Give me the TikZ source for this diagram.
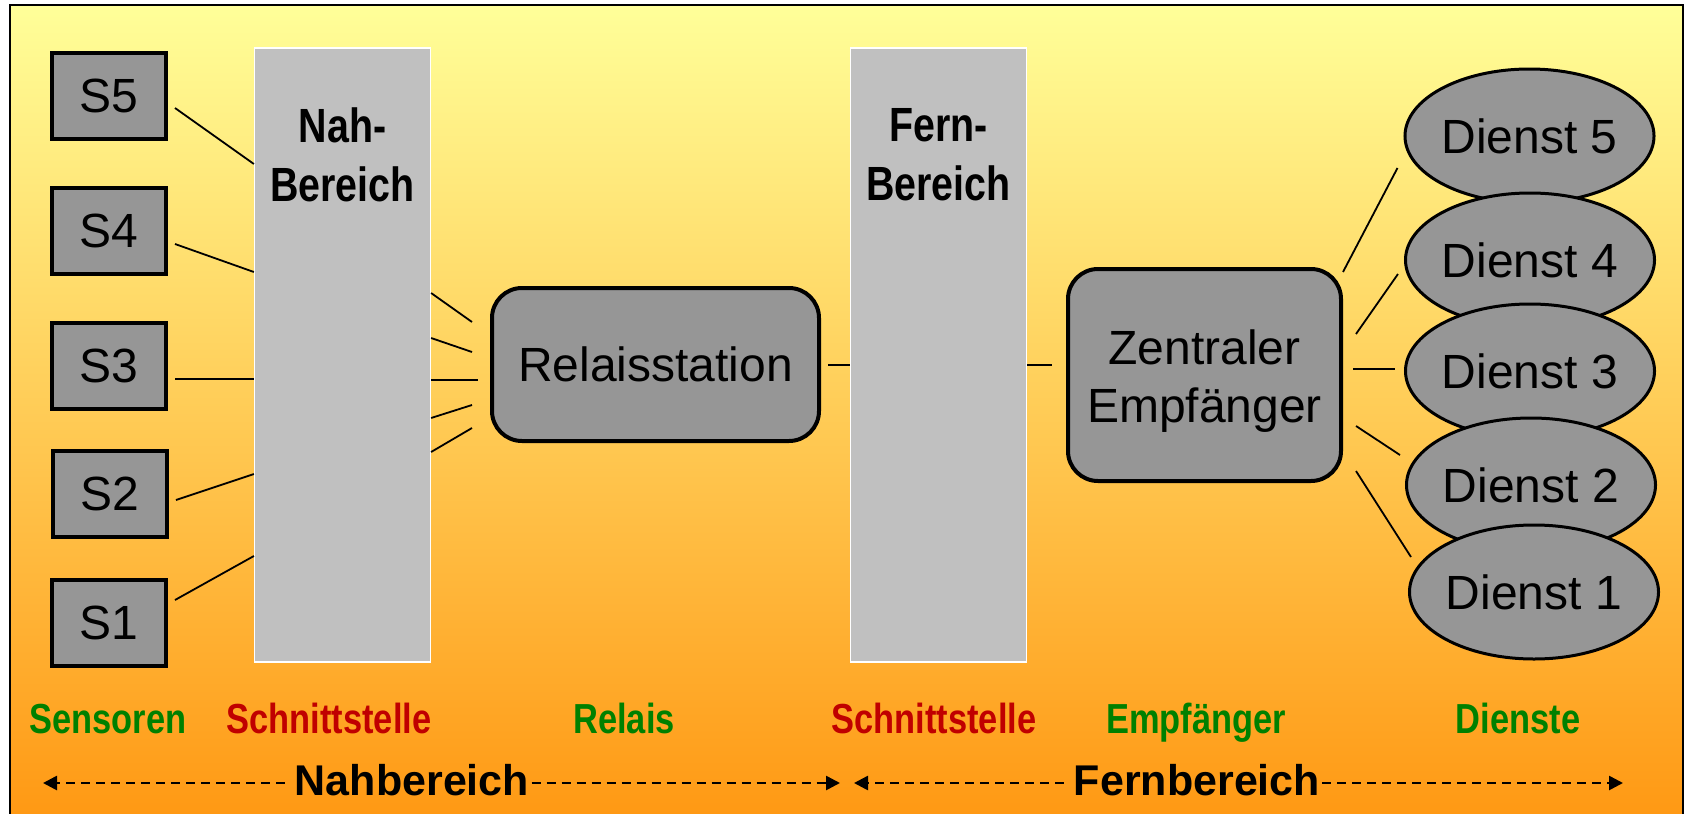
\documentclass[tikz,border=0pt]{standalone}
\usepackage{fontspec}
\setmainfont{Liberation Sans}
\newfontfamily\narrowbf[FakeStretch=0.82]{Liberation Sans Bold}
\usetikzlibrary{shapes.geometric,arrows.meta,calc}
\definecolor{boxgray}{RGB}{150,150,150}
\definecolor{bargray}{RGB}{192,192,192}
\definecolor{bgtop}{RGB}{255,255,153}
\definecolor{bgmid}{RGB}{255,214,112}
\definecolor{bgbot}{RGB}{255,153,20}
\definecolor{lblgreen}{RGB}{0,128,0}
\definecolor{lblred}{RGB}{192,0,0}
\begin{document}
\begin{tikzpicture}[x=0.5pt,y=-0.5pt,
  sbox/.style={draw=black,line width=2pt,fill=boxgray,minimum width=57pt,minimum height=43pt,inner sep=0pt,font=\fontsize{24}{28}\selectfont},
  bar/.style={draw=white,line width=0.6pt,fill=bargray,minimum width=88pt,minimum height=307pt,inner sep=0pt},
  barlabel/.style={font=\narrowbf\fontsize{24}{29.5}\selectfont,align=center,inner sep=0pt},
  rbox/.style={draw=black,line width=2pt,fill=boxgray,rounded corners=15pt,inner sep=0pt,align=center,font=\fontsize{24}{29}\selectfont},
  boxtext/.style={inner sep=0pt,align=center,font=\fontsize{24}{29}\selectfont},
  dienst/.style={ellipse,draw=black,line width=1.5pt,fill=boxgray,minimum width=123pt,minimum height=67pt,inner sep=0pt,font=\fontsize{24}{28}\selectfont},
  conn/.style={line width=0.9pt},
  cat/.style={font=\narrowbf\fontsize{21}{24}\selectfont,anchor=base,inner sep=0pt},
  rangelbl/.style={font=\bfseries\fontsize{21.5}{26}\selectfont,inner sep=1pt},
  rangeline/.style={line width=1.3pt,dash pattern=on 4.5pt off 3pt,-{Triangle[length=7pt,width=7pt]}}
]
\useasboundingbox (0,0) rectangle (1688,814);
% background
\shade[top color=bgtop,middle color=bgmid,bottom color=bgbot] (10,5) rectangle (1683,814);
\draw[line width=1pt] (10,814) -- (10,5) -- (1683,5) -- (1683,814);

% sensors
\node[sbox] (S5) at (109,96) {S5};
\node[sbox] (S4) at (109,231) {S4};
\node[sbox] (S3) at (109,366) {S3};
\node[sbox] (S2) at (110,494) {S2};
\node[sbox] (S1) at (109,623) {S1};

% interface bars
\node[bar] (nah) at (342.5,355) {};
\node[barlabel] (nahlbl) at (342.5,155) {Nah-\\Bereich};
\node[bar] (fern) at (938.5,355) {};
\node[barlabel] (fernlbl) at (938.5,155) {Fern-\\Bereich};

% relay and receiver
\node[rbox,minimum width=163.5pt,minimum height=76.5pt] (relais) at (655.5,364.5) {Relaisstation};
\node[rbox,minimum width=136.5pt,minimum height=106pt] (zentral) at (1204.5,375) {};
\node[boxtext] (zentrallbl) at (1204.5,381) {Zentraler\\Empfänger};

% services (drawn top to bottom, later ones on top)
\node[dienst] (D5) at (1529.5,136) {Dienst 5};
\node[dienst] (D4) at (1530,260) {Dienst 4};
\node[dienst] (D3) at (1530,371) {Dienst 3};
\node[dienst] (D2) at (1531,485) {Dienst 2};
\node[dienst] (D1) at (1534,592) {Dienst 1};

% sensors -> Nahbereich
\draw[conn] ($(S5.east)+(7,12)$) -- (nah.west |- 0,164);
\draw[conn] ($(S4.east)+(7,13)$) -- (nah.west |- 0,272);
\draw[conn] ($(S3.east)+(7,13)$) -- (nah.west |- 0,379);
\draw[conn] ($(S2.east)+(7,6)$) -- (nah.west |- 0,474);
\draw[conn] ($(S1.east)+(7,-23)$) -- (nah.west |- 0,556);

% Nahbereich -> Relais
\draw[conn] (nah.east |- 0,293) -- ($(relais.west |- 0,322)+(-18,0)$);
\draw[conn] (nah.east |- 0,338) -- ($(relais.west |- 0,352)+(-18,0)$);
\draw[conn] (nah.east |- 0,380) -- ($(relais.west |- 0,380)+(-12,0)$);
\draw[conn] (nah.east |- 0,418) -- ($(relais.west |- 0,405)+(-18,0)$);
\draw[conn] (nah.east |- 0,452) -- ($(relais.west |- 0,428)+(-18,0)$);

% Relais -> Fernbereich -> Zentraler
\draw[conn] ($(relais.east |- 0,365)+(7,0)$) -- (fern.west |- 0,365);
\draw[conn] (fern.east |- 0,365) -- ($(zentral.west |- 0,365)+(-14,0)$);

% Zentraler -> services
\draw[conn] (zentral.east |- 0,272) -- ($(D5.west |- 0,168)+(-6,0)$);
\draw[conn] ($(zentral.east |- 0,334)+(13,0)$) -- ($(D4.west |- 0,274)+(-6,0)$);
\draw[conn] ($(zentral.east |- 0,369)+(10,0)$) -- ($(D3.west |- 0,369)+(-9,0)$);
\draw[conn] ($(zentral.east |- 0,426)+(13,0)$) -- ($(D2.west |- 0,455)+(-5,0)$);
\draw[conn] ($(zentral.east |- 0,471)+(13,0)$) -- ($(D1.west |- 0,557)+(3,0)$);

% category labels
\node[cat,text=lblgreen] (lsens) at (108,733) {Sensoren};
\node[cat,text=lblred] (lsch1) at (329,733) {Schnittstelle};
\node[cat,text=lblgreen] (lrel) at (624,733) {Relais};
\node[cat,text=lblred] (lsch2) at (934,733) {Schnittstelle};
\node[cat,text=lblgreen] (lemp) at (1196,733) {Empfänger};
\node[cat,text=lblgreen] (ldie) at (1518,733) {Dienste};

% range arrows
\coordinate (nahL) at (43,783);
\coordinate (nahR) at (840,783);
\coordinate (fernL) at (854,783);
\coordinate (fernR) at (1623,783);
\node[rangelbl] (nahtxt) at (412,780) {Nahbereich};
\node[rangelbl] (ferntxt) at (1197,780) {Fernbereich};
\draw[rangeline] ($(nahtxt.west |- nahL)+(-8,0)$) -- (nahL);
\draw[rangeline] (nahtxt.east |- nahR) -- (nahR);
\draw[rangeline] ($(ferntxt.west |- fernL)+(-8,0)$) -- (fernL);
\draw[rangeline] (ferntxt.east |- fernR) -- (fernR);
\end{tikzpicture}
\end{document}
